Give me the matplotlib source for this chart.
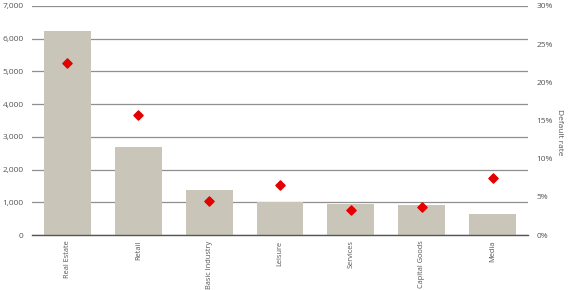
import numpy as np
import matplotlib
matplotlib.use('Agg')
import matplotlib.pyplot as plt
from matplotlib.ticker import FuncFormatter

plt.rc('font', family='Open Sans', size=6)

sectors = ['Real Estate', 'Retail', 'Basic Industry', 'Leisure', 'Services', 'Capital Goods', 'Media']
amounts = [6250, 2700, 1370, 1020, 960, 910, 650]
default_rate = [22.5, 15.7, 4.5, 6.55, 3.3, 3.7, 7.5]

text_col = '#555555'

fig = plt.figure(figsize=(5.8, 2.9), dpi=100)
ax = fig.add_axes([32 / 580, 1 - 235 / 290, 496 / 580, 229 / 290])
x = np.arange(len(sectors))

ax.set_axisbelow(True)
ax.yaxis.grid(True, color='#8f8f8f', linewidth=0.9)
ax.bar(x, amounts, width=0.66, color='#c9c6b9', zorder=2)
ax.set_xlim(-0.5, len(sectors) - 0.5)
ax.set_ylim(0, 7000)
ax.set_yticks(np.arange(0, 7001, 1000))
ax.yaxis.set_major_formatter(FuncFormatter(lambda v, p: f'{int(v):,}'))
ax.set_xticks(x)
ax.set_xticklabels(sectors, rotation=90, color=text_col, fontsize=5.3)
ax.tick_params(axis='both', length=0, colors=text_col)
ax.tick_params(axis='y', labelsize=6, pad=6)
ax.tick_params(axis='x', pad=4)
for s in ['top', 'right', 'left']:
    ax.spines[s].set_visible(False)
ax.spines['bottom'].set_color('#555555')
ax.spines['bottom'].set_linewidth(1.0)

ax2 = ax.twinx()
ax2.scatter(x, default_rate, marker='D', s=22, color='#e30000', zorder=3)
ax2.set_ylim(0, 30)
ax2.set_yticks(np.arange(0, 31, 5))
ax2.yaxis.set_major_formatter(FuncFormatter(lambda v, p: f'{int(v)}%'))
ax2.tick_params(axis='y', length=0, colors=text_col, labelsize=6, pad=6)
for s in ['top', 'right', 'left', 'bottom']:
    ax2.spines[s].set_visible(False)
ax2.set_ylabel('Default rate', rotation=270, color=text_col, fontsize=6, labelpad=10)
ax2.yaxis.set_label_coords(1.07, 0.45)

fig.savefig('out.png', dpi=100)
